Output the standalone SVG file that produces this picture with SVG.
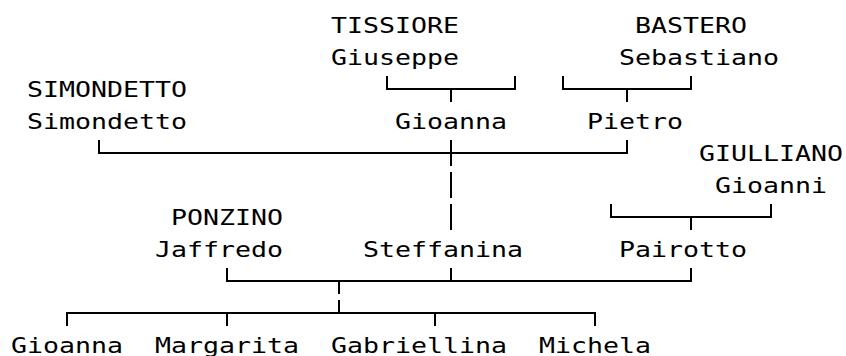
<svg xmlns="http://www.w3.org/2000/svg" width="846" height="356" viewBox="0 0 846 356">
<style>
text{font-family:"DejaVu Sans Mono","Liberation Mono",monospace;font-size:21px;fill:#000}
.c path{fill:none;stroke:#000;stroke-width:2;stroke-linecap:butt;stroke-linejoin:miter}
</style>
<rect width="846" height="356" fill="#fff"/>
<g id="connectors" class="c">
<path d="M387,76 V89 H515 V76 M451,89 V102"/>
<path d="M563,76 V89 H691 V76 M627,89 V102"/>
<path d="M99,140 V153 H627 V140 M451,140 V166"/>
<path d="M451,172 V198 M451,204 V230"/>
<path d="M611,204 V217 H771 V204 M691,217 V230"/>
<path d="M227,268 V281 H691 V268 M339,281 V294 M451,268 V281"/>
<path d="M67,326 V313 H595 V326 M227,313 V326 M339,300 V313 M435,313 V326"/>
</g>
<g id="tissiore_giuseppe">
<text x="331" y="33" textLength="128" lengthAdjust="spacingAndGlyphs">TISSIORE</text>
<text x="331" y="65" textLength="128" lengthAdjust="spacingAndGlyphs">Giuseppe</text>
</g>
<g id="bastero_sebastiano">
<text x="635" y="33" textLength="112" lengthAdjust="spacingAndGlyphs">BASTERO</text>
<text x="619" y="65" textLength="160" lengthAdjust="spacingAndGlyphs">Sebastiano</text>
</g>
<g id="simondetto_simondetto">
<text x="27" y="97" textLength="160" lengthAdjust="spacingAndGlyphs">SIMONDETTO</text>
<text x="27" y="129" textLength="160" lengthAdjust="spacingAndGlyphs">Simondetto</text>
</g>
<g id="gioanna_parent">
<text x="395" y="129" textLength="112" lengthAdjust="spacingAndGlyphs">Gioanna</text>
</g>
<g id="pietro">
<text x="587" y="129" textLength="96" lengthAdjust="spacingAndGlyphs">Pietro</text>
</g>
<g id="giulliano_gioanni">
<text x="699" y="161" textLength="144" lengthAdjust="spacingAndGlyphs">GIULLIANO</text>
<text x="715" y="193" textLength="112" lengthAdjust="spacingAndGlyphs">Gioanni</text>
</g>
<g id="ponzino_jaffredo">
<text x="171" y="225" textLength="112" lengthAdjust="spacingAndGlyphs">PONZINO</text>
<text x="155" y="257" textLength="128" lengthAdjust="spacingAndGlyphs">Jaffredo</text>
</g>
<g id="steffanina">
<text x="363" y="257" textLength="160" lengthAdjust="spacingAndGlyphs">Steffanina</text>
</g>
<g id="pairotto">
<text x="619" y="257" textLength="128" lengthAdjust="spacingAndGlyphs">Pairotto</text>
</g>
<g id="child_gioanna">
<text x="11" y="353" textLength="112" lengthAdjust="spacingAndGlyphs">Gioanna</text>
</g>
<g id="child_margarita">
<text x="155" y="353" textLength="144" lengthAdjust="spacingAndGlyphs">Margarita</text>
</g>
<g id="child_gabriellina">
<text x="331" y="353" textLength="176" lengthAdjust="spacingAndGlyphs">Gabriellina</text>
</g>
<g id="child_michela">
<text x="539" y="353" textLength="112" lengthAdjust="spacingAndGlyphs">Michela</text>
</g>
</svg>
